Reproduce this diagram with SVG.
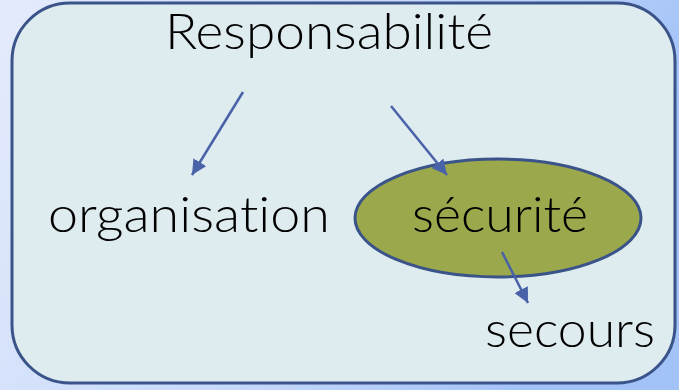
<svg xmlns="http://www.w3.org/2000/svg" width="679" height="390" viewBox="0 0 679 390">
<defs>
<linearGradient id="bg" x1="0" y1="0" x2="1" y2="0.3">
<stop offset="0" stop-color="#e4ebfc"/>
<stop offset="0.6" stop-color="#c6d8fa"/>
<stop offset="1" stop-color="#a2c2f8"/>
</linearGradient>
<marker id="ah" viewBox="0 0 10 10" refX="10" refY="5" markerWidth="6" markerHeight="6" orient="auto" markerUnits="strokeWidth">
<path d="M0,0 L10,5 L0,10 z" fill="#4a62a8"/>
</marker>
<style>
.t{font-family:"Lato","DejaVu Sans",sans-serif;font-weight:300;font-size:49px;fill:#000;font-variant-ligatures:none;font-feature-settings:"liga" 0,"dlig" 0}
.c{stroke:#4a62a8;stroke-width:2.5;fill:none;marker-end:url(#ah)}
</style>
</defs>
<rect x="0" y="0" width="679" height="390" fill="url(#bg)"/>
<g id="frame">
<rect x="12" y="3" width="663" height="380" rx="58" ry="58" fill="#deebef" stroke="#3a5489" stroke-width="3"/>
</g>
<g id="responsabilite">
<text class="t" x="165" y="49" textLength="328" lengthAdjust="spacingAndGlyphs">Responsabilité</text>
</g>
<g id="organisation">
<text class="t" x="48" y="232" textLength="282" lengthAdjust="spacingAndGlyphs">organisation</text>
</g>
<g id="securite">
<ellipse cx="498" cy="218" rx="143" ry="59" fill="#9ba84b" stroke="#3a5489" stroke-width="3"/>
<text class="t" x="412" y="232" textLength="176" lengthAdjust="spacingAndGlyphs">sécurité</text>
</g>
<g id="secours">
<text class="t" x="485" y="347" textLength="170" lengthAdjust="spacingAndGlyphs">secours</text>
</g>
<g id="connectors">
<line class="c" x1="243" y1="92" x2="192" y2="175"/>
<line class="c" x1="391" y1="106" x2="447" y2="175"/>
<line class="c" x1="502" y1="252" x2="528" y2="303"/>
</g>
</svg>
